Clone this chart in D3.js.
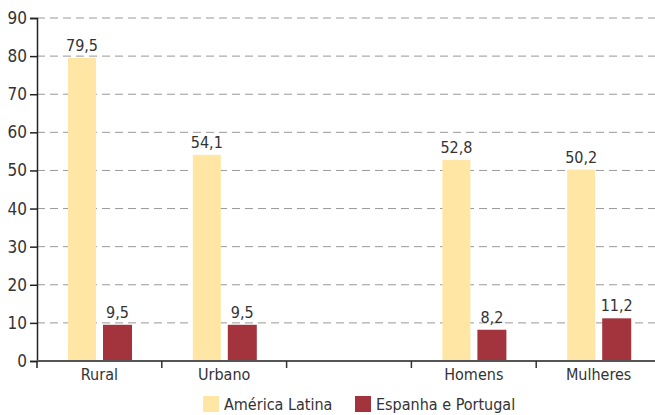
<!DOCTYPE html>
<html>
<head>
<meta charset="utf-8">
<script src="https://cdn.jsdelivr.net/npm/d3@7"></script>
<style>
  body { margin: 0; background: #fff; }
  text { font-family: "Liberation Sans Narrow", "DejaVu Sans Condensed", sans-serif; fill: #333; }
</style>
</head>
<body>
<svg width="655" height="415"></svg>
<script>
var categories = ["Rural", "Urbano", "", "Homens", "Mulheres"];
var seriesNames = ["América Latina", "Espanha e Portugal"];
var americaLatina = [79.5, 54.1, null, 52.8, 50.2];
var espanhaPortugal = [9.5, 9.5, null, 8.2, 11.2];
var yTicks = [0, 10, 20, 30, 40, 50, 60, 70, 80, 90];
var colors = ["#FFE6A5", "#A3333D"];

var svg = d3.select("svg");
var margin = { left: 37, top: 18, bottom: 54 };

var x = d3.scaleBand()
  .domain(d3.range(categories.length))
  .range([margin.left, 661]);

var y = d3.scaleLinear()
  .domain([0, 90])
  .range([361, 18]);

// gridlines
svg.append("g")
  .selectAll("line")
  .data(yTicks.slice(1))
  .enter().append("line")
  .attr("x1", margin.left)
  .attr("x2", 655)
  .attr("y1", function (d) { return y(d); })
  .attr("y2", function (d) { return y(d); })
  .style("stroke", "#999")
  .style("stroke-width", 1)
  .style("stroke-dasharray", "8,5");

// bars
var rows = categories.map(function (c, i) {
  return { i: i, values: [americaLatina[i], espanhaPortugal[i]] };
});

var offsets = [31, 66];
var widths = [28, 29];

var groups = svg.append("g")
  .selectAll("g")
  .data(rows.filter(function (d) { return d.values[0] != null; }))
  .enter().append("g");

groups.selectAll("rect")
  .data(function (d) { return d.values.map(function (v, k) { return { i: d.i, k: k, v: v }; }); })
  .enter().append("rect")
  .attr("x", function (d) { return x(d.i) + offsets[d.k]; })
  .attr("width", function (d) { return widths[d.k]; })
  .attr("y", function (d) { return y(d.v); })
  .attr("height", function (d) { return y(0) - y(d.v); })
  .attr("fill", function (d) { return colors[d.k]; });

groups.selectAll("text")
  .data(function (d) { return d.values.map(function (v, k) { return { i: d.i, k: k, v: v }; }); })
  .enter().append("text")
  .attr("x", function (d) { return x(d.i) + offsets[d.k] + widths[d.k] / 2; })
  .attr("y", function (d) { return y(d.v) - 7; })
  .attr("text-anchor", "middle")
  .style("font-size", "16px")
  .text(function (d) { return d3.format(".1f")(d.v).replace(".", ","); });

// y axis
var yAxis = svg.append("g")
  .attr("transform", "translate(" + margin.left + ",0)")
  .call(d3.axisLeft(y).tickValues(yTicks).tickSize(7).tickPadding(3));
yAxis.select(".domain").attr("stroke", "#222").attr("stroke-width", 1.5);
yAxis.selectAll(".tick line").attr("stroke", "#222").attr("stroke-width", 1.5);
yAxis.selectAll("text").style("font-size", "17px").attr("fill", "#333");

// x axis
var xAxis = svg.append("g")
  .attr("transform", "translate(0," + y(0) + ")")
  .call(d3.axisBottom(x).tickFormat(function (i) { return categories[i]; }).tickSize(0).tickPadding(8));
xAxis.select(".domain").remove();
xAxis.append("line")
  .attr("x1", margin.left).attr("x2", 655)
  .attr("stroke", "#555").attr("stroke-width", 2);
xAxis.selectAll(".sep")
  .data(d3.range(1, categories.length))
  .enter().append("line")
  .attr("class", "sep")
  .attr("x1", function (i) { return x(i); })
  .attr("x2", function (i) { return x(i); })
  .attr("y1", 0).attr("y2", 7)
  .attr("stroke", "#333").attr("stroke-width", 1.5);
xAxis.append("line")
  .attr("x1", margin.left).attr("x2", margin.left)
  .attr("y1", 0).attr("y2", 7)
  .attr("stroke", "#222").attr("stroke-width", 1.5);
xAxis.selectAll("text").style("font-size", "16px").attr("fill", "#333");

// legend
var legendX = [203, 355];
var legend = svg.append("g")
  .selectAll("g")
  .data(seriesNames)
  .enter().append("g")
  .attr("transform", function (d, i) { return "translate(" + legendX[i] + ",396)"; });
legend.append("rect")
  .attr("width", 16).attr("height", 16)
  .attr("fill", function (d, i) { return colors[i]; });
legend.append("text")
  .attr("x", 21).attr("y", 14)
  .style("font-size", "16px")
  .text(function (d) { return d; });
</script>
</body>
</html>
